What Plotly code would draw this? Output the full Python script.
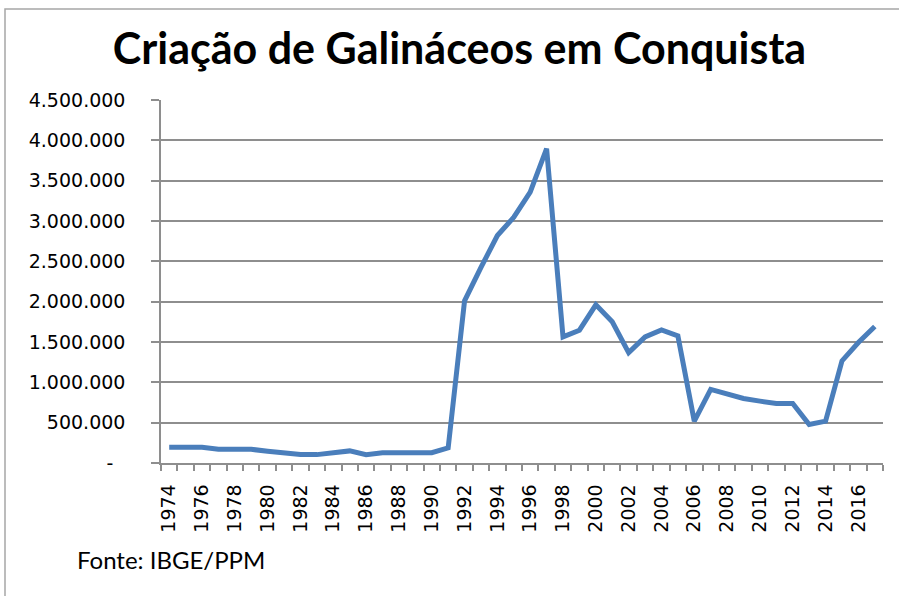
import plotly.graph_objects as go

years = list(range(1974, 2018))
valores = [195000, 195000, 195000, 170000, 170000, 170000, 145000, 125000, 104000, 104000,
           125000, 150000, 104000, 128000, 128000, 128000, 128000, 187000, 2011000, 2425000,
           2820000, 3047000, 3358000, 3897000, 1563000, 1646000, 1961000, 1750000, 1368000, 1563000,
           1650000, 1575000, 518000, 912000, 858000, 800000, 767000, 738000, 738000, 477000,
           518000, 1265000, 1493000, 1692000]

y_ticks = [0, 500000, 1000000, 1500000, 2000000, 2500000, 3000000, 3500000, 4000000, 4500000]
y_labels = ["-\u00a0\u00a0", "500.000", "1.000.000", "1.500.000", "2.000.000", "2.500.000",
            "3.000.000", "3.500.000", "4.000.000", "4.500.000"]
x_ticks = list(range(1974, 2017, 2))
x_labels = [str(v) for v in x_ticks]

titulo = "Criação de Galináceos em Conquista"
fonte = "Fonte: IBGE/PPM"

# body margin is removed below, so coordinates are reference pixels
W, H = 899, 596
PL, PR, PT, PB = 161, 883, 100, 463
pw, ph = PR - PL, PB - PT


def px(x):
    return (x - PL) / pw


def py(y):
    return (PB - y) / ph


fig = go.Figure()
fig.add_trace(go.Scatter(x=years, y=valores, mode="lines",
                         line=dict(color="#4a7ebb", width=5), hoverinfo="x+y"))

grid = "#8e8e8e"
fig.update_layout(
    width=W, height=H,
    margin=dict(l=PL, r=W - PR, t=PT, b=H - PB),
    paper_bgcolor="white", plot_bgcolor="white",
    showlegend=False,
    title=dict(text="<b>" + titulo + "</b>", x=459.5 / W, xanchor="center",
               y=1 - 49 / H, yanchor="middle", yref="container",
               font=dict(family="Lato", size=43, color="black")),
    xaxis=dict(range=[1973.5, 2017.5], tickvals=x_ticks, ticktext=x_labels,
               tickangle=-90, ticks="", showgrid=False, zeroline=False,
               showline=True, linecolor=grid, linewidth=1.5,
               tickfont=dict(family="DejaVu Sans", size=19, color="black"),
               ticklabelstandoff=12,
               minor=dict(tick0=1973.5, dtick=1, ticks="outside", ticklen=6,
                          tickcolor=grid, tickwidth=1.5, showgrid=False)),
    yaxis=dict(range=[0, 4500000], tickvals=y_ticks, ticktext=y_labels,
               ticks="outside", ticklen=8, tickcolor=grid, tickwidth=1.5,
               showgrid=True, gridcolor=grid, gridwidth=1.5, zeroline=False,
               showline=True, linecolor=grid, linewidth=1.5,
               tickfont=dict(family="DejaVu Sans", size=19, color="black"),
               ticklabelstandoff=22),
    annotations=[dict(text=fonte, xref="paper", yref="paper", x=px(75),
                      y=py(559), xanchor="left", yanchor="middle",
                      showarrow=False, font=dict(family="Lato", size=24, color="black"))],
    shapes=[dict(type="rect", xref="paper", yref="paper",
                 x0=px(5), x1=1.2, y0=-0.6, y1=py(9),
                 line=dict(color="#a6a6a6", width=1.5), layer="below")],
)

fig.write_html("out.html", config={"displayModeBar": False},
               post_script="document.body.style.margin='0';document.body.style.overflow='hidden';")
